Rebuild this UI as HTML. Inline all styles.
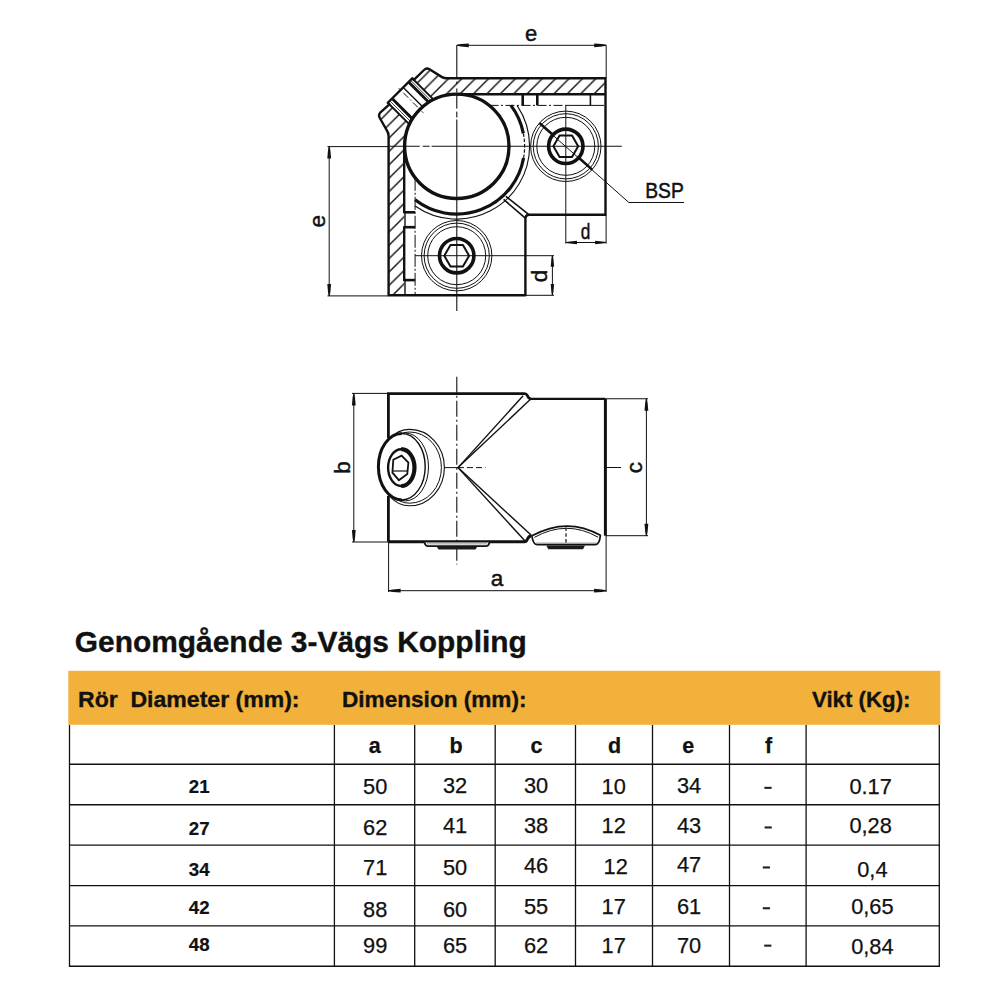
<!DOCTYPE html>
<html><head><meta charset="utf-8"><title>Genomgående 3-Vägs Koppling</title>
<style>
html,body{margin:0;padding:0;background:#fff;}
body{width:1008px;height:1008px;overflow:hidden;}
svg{display:block;font-family:"Liberation Sans", sans-serif;}
text{fill:#111;}
</style></head><body>
<svg width="1008" height="1008" viewBox="0 0 1008 1008">
<defs>
<pattern id="hatch" patternUnits="userSpaceOnUse" width="13.4" height="13.4" x="4.5" y="0">
<path d="M-3.35,3.35 L3.35,-3.35 M0,13.4 L13.4,0 M10.05,16.75 L16.75,10.05" stroke="#111" stroke-width="1.4"/>
</pattern>
</defs>
<rect width="1008" height="1008" fill="#fff"/>
<path d="M605.5,78.3 L442,78.3 L426.5,68.3 L378.6,114.6 L388.6,133 L388.6,295.3 L404.2,295.3 L404.2,146.3 A52.6,52.6 0 0 1 456.8,93.9 L605.5,93.9 Z" fill="url(#hatch)" stroke="none"/>
<path d="M387.79,102.74 L412.25,78.28 L434.60,100.62 L410.13,125.09 Z" fill="#fff" stroke="none"/>
<path d="M605.5,78.3 L447,78.3 Q444,78.3 442,77.1 L429.5,69.3 Q426.5,67.6 424,70 L413.88,79.90 L412.25,78.28 L387.79,102.74 L389.41,104.37 L380.5,112.3 Q378,115 379.8,118 L386.6,130 Q388.6,133 388.6,136 L388.6,295.3 L525.4,295.3 L525.4,219 Q525.4,214.8 529.5,214.8 L605.5,214.8 Z" stroke="#111" stroke-width="2.4" fill="none" stroke-linejoin="round"/>
<line x1="456.80" y1="94.20" x2="605.50" y2="94.20" stroke="#111" stroke-width="2.4" />
<line x1="404.20" y1="146.30" x2="404.20" y2="213.30" stroke="#111" stroke-width="2.4" />
<line x1="405.00" y1="212.30" x2="405.00" y2="227.20" stroke="#111" stroke-width="1.4" />
<line x1="404.20" y1="226.20" x2="404.20" y2="281.10" stroke="#111" stroke-width="2.4" />
<line x1="405.00" y1="280.10" x2="405.00" y2="295.30" stroke="#111" stroke-width="1.4" />
<line x1="387.79" y1="102.74" x2="409.43" y2="124.38" stroke="#111" stroke-width="1.9" />
<line x1="412.25" y1="78.28" x2="433.54" y2="99.57" stroke="#111" stroke-width="1.9" />
<line x1="392.59" y1="99.07" x2="412.39" y2="118.86" stroke="#111" stroke-width="2.9" />
<line x1="390.33" y1="101.33" x2="410.74" y2="121.74" stroke="#111" stroke-width="0.8" />
<line x1="409.07" y1="82.59" x2="428.75" y2="102.27" stroke="#111" stroke-width="2.9" />
<line x1="410.98" y1="80.68" x2="431.14" y2="100.84" stroke="#111" stroke-width="0.8" />
<line x1="403.77" y1="87.89" x2="422.67" y2="106.80" stroke="#111" stroke-width="1.4" />
<line x1="398.75" y1="88.25" x2="401.22" y2="90.72" stroke="#111" stroke-width="1" />
<line x1="403.34" y1="92.84" x2="421.44" y2="110.94" stroke="#111" stroke-width="1" stroke-dasharray="7,2.5,1.5,2.5"/>
<line x1="421.80" y1="111.30" x2="423.21" y2="112.71" stroke="#111" stroke-width="1" />
<circle cx="456.80" cy="146.30" r="52.20" stroke="#111" stroke-width="3.4" fill="none" />
<line x1="489.50" y1="105.40" x2="565.80" y2="105.40" stroke="#111" stroke-width="1.0" stroke-dasharray="9,2.5,2,2.5"/>
<line x1="565.80" y1="105.40" x2="604.00" y2="105.40" stroke="#111" stroke-width="1.0" />
<line x1="522.70" y1="94.20" x2="522.70" y2="105.40" stroke="#111" stroke-width="2.6" />
<line x1="537.30" y1="94.20" x2="537.30" y2="105.40" stroke="#111" stroke-width="2.6" />
<line x1="590.40" y1="94.20" x2="590.40" y2="105.40" stroke="#111" stroke-width="1.6" />
<line x1="415.10" y1="177.80" x2="415.10" y2="295.30" stroke="#111" stroke-width="1.0" stroke-dasharray="13,2,2,2"/>
<line x1="404.20" y1="212.30" x2="415.10" y2="212.30" stroke="#111" stroke-width="2.6" />
<line x1="404.20" y1="227.20" x2="415.10" y2="227.20" stroke="#111" stroke-width="2.6" />
<line x1="404.20" y1="280.10" x2="415.10" y2="280.10" stroke="#111" stroke-width="2.6" />
<path d="M510.87,105.40 A67.8,67.8 0 0 1 523.35,133.36" stroke="#111" stroke-width="3.2" fill="none" />
<path d="M523.35,133.36 A67.8,67.8 0 0 1 523.57,158.07" stroke="#111" stroke-width="1.2" fill="none" stroke-dasharray="3.5,1.8"/>
<path d="M523.57,158.07 A67.8,67.8 0 0 1 415.10,199.76" stroke="#111" stroke-width="3.2" fill="none" />
<path d="M529.60,146.30 A72.8,72.8 0 0 1 415.10,205.97" stroke="#111" stroke-width="1.1" fill="none" />
<path d="M517.02,105.40 A72.8,72.8 0 0 1 529.60,146.30" stroke="#111" stroke-width="1.1" fill="none" />
<line x1="505.80" y1="196.30" x2="528.60" y2="214.40" stroke="#111" stroke-width="1.6" />
<line x1="503.60" y1="199.40" x2="525.60" y2="218.40" stroke="#111" stroke-width="1.6" />
<circle cx="565.80" cy="146.30" r="35.20" stroke="#111" stroke-width="1.0" fill="none" />
<circle cx="565.80" cy="146.30" r="32.60" stroke="#111" stroke-width="1.0" fill="none" />
<circle cx="565.80" cy="146.30" r="29.00" stroke="#111" stroke-width="1.0" fill="none" />
<circle cx="565.80" cy="146.30" r="17.20" stroke="#111" stroke-width="3.6" fill="none" />
<polygon points="578.20,146.30 572.00,157.04 559.60,157.04 553.40,146.30 559.60,135.56 572.00,135.56" fill="none" stroke="#111" stroke-width="2.0" stroke-linejoin="round"/>
<circle cx="456.70" cy="255.70" r="35.20" stroke="#111" stroke-width="1.0" fill="none" />
<circle cx="456.70" cy="255.70" r="32.60" stroke="#111" stroke-width="1.0" fill="none" />
<circle cx="456.70" cy="255.70" r="29.00" stroke="#111" stroke-width="1.0" fill="none" />
<circle cx="456.70" cy="255.70" r="17.20" stroke="#111" stroke-width="3.6" fill="none" />
<polygon points="469.10,255.70 462.90,266.44 450.50,266.44 444.30,255.70 450.50,244.96 462.90,244.96" fill="none" stroke="#111" stroke-width="2.0" stroke-linejoin="round"/>
<line x1="456.80" y1="45.30" x2="456.80" y2="78.30" stroke="#111" stroke-width="1.1" />
<line x1="456.80" y1="81.50" x2="456.80" y2="84.00" stroke="#111" stroke-width="1.1" />
<line x1="456.80" y1="88.50" x2="456.80" y2="92.50" stroke="#111" stroke-width="1.1" />
<line x1="456.80" y1="94.20" x2="456.80" y2="311.00" stroke="#111" stroke-width="1.1" />
<line x1="388.60" y1="146.30" x2="621.80" y2="146.30" stroke="#111" stroke-width="1.1" />
<line x1="327.50" y1="146.60" x2="388.60" y2="146.60" stroke="#111" stroke-width="1.0" />
<line x1="565.80" y1="105.40" x2="565.80" y2="243.60" stroke="#111" stroke-width="1.0" />
<line x1="415.10" y1="255.70" x2="554.00" y2="255.70" stroke="#111" stroke-width="1.0" />
<rect x="419.7" y="144.5" width="3.0" height="3.6" fill="#fff"/>
<rect x="429.6" y="144.5" width="2.0" height="3.6" fill="#fff"/>
<rect x="455" y="108.6" width="3.6" height="3.0" fill="#fff"/>
<rect x="455" y="117.5" width="3.6" height="2.0" fill="#fff"/>
<line x1="540.80" y1="124.50" x2="628.90" y2="202.50" stroke="#111" stroke-width="1.0" />
<line x1="628.90" y1="202.50" x2="684.00" y2="202.50" stroke="#111" stroke-width="1.0" />
<line x1="539.45" y1="122.97" x2="551.95" y2="134.04" stroke="#111" stroke-width="2.6" />
<line x1="579.65" y1="158.56" x2="592.15" y2="169.63" stroke="#111" stroke-width="2.6" />
<line x1="456.80" y1="45.30" x2="606.20" y2="45.30" stroke="#111" stroke-width="1.0" />
<line x1="606.20" y1="45.30" x2="606.20" y2="78.00" stroke="#111" stroke-width="1.0" />
<path d="M456.80,44.80 L461.00,44.08 L468.80,43.40 L468.80,47.20 L461.00,46.52 L456.80,45.80 Z" fill="#111"/>
<path d="M606.20,45.80 L602.00,46.52 L594.20,47.20 L594.20,43.40 L602.00,44.08 L606.20,44.80 Z" fill="#111"/>
<line x1="329.20" y1="146.60" x2="329.20" y2="295.90" stroke="#111" stroke-width="1.0" />
<line x1="327.50" y1="295.90" x2="388.60" y2="295.90" stroke="#111" stroke-width="1.0" />
<path d="M329.70,146.60 L330.42,150.80 L331.10,158.60 L327.30,158.60 L327.98,150.80 L328.70,146.60 Z" fill="#111"/>
<path d="M328.70,295.90 L327.98,291.70 L327.30,283.90 L331.10,283.90 L330.42,291.70 L329.70,295.90 Z" fill="#111"/>
<line x1="566.00" y1="242.50" x2="606.10" y2="242.50" stroke="#111" stroke-width="1.0" />
<line x1="606.10" y1="214.80" x2="606.10" y2="243.60" stroke="#111" stroke-width="1.0" />
<path d="M566.00,242.00 L569.85,241.41 L577.00,240.80 L577.00,244.20 L569.85,243.59 L566.00,243.00 Z" fill="#111"/>
<path d="M606.10,243.00 L602.25,243.59 L595.10,244.20 L595.10,240.80 L602.25,241.41 L606.10,242.00 Z" fill="#111"/>
<line x1="552.40" y1="255.70" x2="552.40" y2="295.10" stroke="#111" stroke-width="1.0" />
<line x1="525.40" y1="295.30" x2="554.00" y2="295.30" stroke="#111" stroke-width="1.0" />
<path d="M552.90,255.70 L553.49,259.55 L554.10,266.70 L550.70,266.70 L551.31,259.55 L551.90,255.70 Z" fill="#111"/>
<path d="M551.90,295.10 L551.31,291.25 L550.70,284.10 L554.10,284.10 L553.49,291.25 L552.90,295.10 Z" fill="#111"/>
<text x="531.2" y="40.5" font-size="22" font-weight="400" text-anchor="middle" stroke="#111" stroke-width="0.45">e</text>
<text x="0" y="0" font-size="22.5" font-weight="400" text-anchor="middle" transform="translate(324.6,221.2) rotate(-90)" stroke="#111" stroke-width="0.45">e</text>
<text x="585.6" y="238.6" font-size="22.5" font-weight="400" text-anchor="middle" stroke="#111" stroke-width="0.45" textLength="9.6" lengthAdjust="spacingAndGlyphs">d</text>
<text x="0" y="0" font-size="22.5" font-weight="400" text-anchor="middle" transform="translate(547.2,276) rotate(-90)" stroke="#111" stroke-width="0.45">d</text>
<text x="645.2" y="197.9" font-size="22.3" font-weight="400" text-anchor="start" stroke="#111" stroke-width="0.5" textLength="38.6" lengthAdjust="spacingAndGlyphs">BSP</text>
<path d="M388.4,438 L388.4,393.6 L524.5,393.6 Q526.5,393.6 527.3,395.5 L528.5,397.6 Q529.5,398.8 531,398.8" stroke="#111" stroke-width="2.8" fill="none" />
<line x1="530.50" y1="398.80" x2="605.40" y2="398.80" stroke="#111" stroke-width="2.2" />
<line x1="605.40" y1="398.80" x2="605.40" y2="535.70" stroke="#111" stroke-width="3.0" />
<line x1="388.40" y1="496.00" x2="388.40" y2="541.80" stroke="#111" stroke-width="2.8" />
<path d="M388.4,541.8 L524.5,541.8 Q526.3,541.8 527.2,539.5 Q528.5,536.5 531,535.5" stroke="#111" stroke-width="3.0" fill="none" />
<line x1="458.00" y1="467.60" x2="523.10" y2="395.70" stroke="#111" stroke-width="1.4" />
<line x1="458.00" y1="467.60" x2="530.20" y2="399.60" stroke="#111" stroke-width="1.4" />
<line x1="458.00" y1="467.60" x2="525.30" y2="541.30" stroke="#111" stroke-width="1.4" />
<line x1="458.00" y1="467.60" x2="531.30" y2="535.30" stroke="#111" stroke-width="1.4" />
<line x1="456.80" y1="376.70" x2="456.80" y2="564.50" stroke="#111" stroke-width="1.1" stroke-dasharray="16,3,2,3"/>
<line x1="444.00" y1="467.60" x2="458.00" y2="467.60" stroke="#111" stroke-width="1.0" />
<line x1="458.00" y1="467.60" x2="485.50" y2="467.60" stroke="#111" stroke-width="1.0" stroke-dasharray="6,3"/>
<path d="M390,438.5 Q398,429.4 409.7,429.4 A34.7,38.2 0 0 1 444.4,467.6 A34.7,38.2 0 0 1 409.7,505.8 Q398,505.8 390,496.5" stroke="#111" stroke-width="1.1" fill="none" />
<path d="M392,439.5 Q400,432 409.7,432 A31.7,35.6 0 0 1 441.4,467.6 A31.7,35.6 0 0 1 409.7,503.2 Q400,503.2 392,495.5" stroke="#111" stroke-width="1.0" fill="none" />
<ellipse cx="405.2" cy="466.9" rx="23.3" ry="34.0" fill="#fff" stroke="#111" stroke-width="1.0"/>
<ellipse cx="401.8" cy="466.7" rx="23.4" ry="33.2" fill="#fff" stroke="#111" stroke-width="1.4"/>
<path d="M401.8,433.5 A23.4,33.2 0 0 0 401.8,499.9" stroke="#111" stroke-width="3.0" fill="none" />
<ellipse cx="401.3" cy="467.6" rx="13.2" ry="18.4" fill="none" stroke="#111" stroke-width="2.4"/>
<path d="M401.3,449.2 A13.2,18.4 0 0 1 401.3,486" stroke="#111" stroke-width="4.2" fill="none" />
<polygon points="393.3,459.8 401.6,455.6 408.4,462.6 407.3,474 398.9,480.2 392.4,472.6" fill="none" stroke="#111" stroke-width="1.8"/>
<line x1="392.50" y1="471.00" x2="407.50" y2="471.00" stroke="#111" stroke-width="1.2" />
<path d="M424.5,542.5 Q425.5,546.2 428,546.2 L486,546.2 Q488.5,546.2 489.5,542.5" fill="#fff" stroke="#111" stroke-width="1.8"/>
<line x1="427.00" y1="543.90" x2="487.00" y2="543.90" stroke="#888" stroke-width="0.9" />
<path d="M436.5,546.2 L477.5,546.2 L475.5,549.6 L438.5,549.6 Z" fill="#1a1a1a"/>
<path d="M531.9,535.8 Q533,544.7 537.5,544.7 L595,544.7 Q599.5,544.7 600.4,535.3 Q567,516.5 531.9,535.8 Z" fill="#fff" stroke="#111" stroke-width="1.7" stroke-linejoin="round"/>
<path d="M534.3,537.4 Q567,519.3 598,537.2" stroke="#111" stroke-width="1.0" fill="none" />
<line x1="536.00" y1="543.10" x2="597.00" y2="543.10" stroke="#888" stroke-width="0.9" />
<path d="M546.3,545.5 L585,545.5 L583,549.2 L548.3,549.2 Z" fill="#1a1a1a"/>
<line x1="566.00" y1="527.50" x2="566.00" y2="545.00" stroke="#111" stroke-width="1.2" stroke-dasharray="3.5,2.2"/>
<line x1="353.80" y1="393.60" x2="353.80" y2="542.00" stroke="#111" stroke-width="1.0" />
<line x1="352.00" y1="393.40" x2="388.40" y2="393.40" stroke="#111" stroke-width="1.0" />
<line x1="352.00" y1="542.00" x2="388.40" y2="542.00" stroke="#111" stroke-width="1.0" />
<path d="M354.30,393.60 L355.02,397.80 L355.70,405.60 L351.90,405.60 L352.58,397.80 L353.30,393.60 Z" fill="#111"/>
<path d="M353.30,542.00 L352.58,537.80 L351.90,530.00 L355.70,530.00 L355.02,537.80 L354.30,542.00 Z" fill="#111"/>
<line x1="646.40" y1="398.75" x2="646.40" y2="535.70" stroke="#111" stroke-width="1.0" />
<line x1="605.40" y1="398.75" x2="648.00" y2="398.75" stroke="#111" stroke-width="1.0" />
<line x1="605.40" y1="535.70" x2="648.00" y2="535.70" stroke="#111" stroke-width="1.0" />
<path d="M646.90,398.75 L647.62,402.95 L648.30,410.75 L644.50,410.75 L645.18,402.95 L645.90,398.75 Z" fill="#111"/>
<path d="M645.90,535.70 L645.18,531.50 L644.50,523.70 L648.30,523.70 L647.62,531.50 L646.90,535.70 Z" fill="#111"/>
<line x1="605.40" y1="467.50" x2="621.00" y2="467.50" stroke="#111" stroke-width="1.0" />
<line x1="388.60" y1="590.70" x2="606.10" y2="590.70" stroke="#111" stroke-width="1.0" />
<line x1="388.60" y1="541.80" x2="388.60" y2="592.00" stroke="#111" stroke-width="1.0" />
<line x1="606.10" y1="535.70" x2="606.10" y2="592.00" stroke="#111" stroke-width="1.0" />
<path d="M388.60,590.20 L392.80,589.48 L400.60,588.80 L400.60,592.60 L392.80,591.92 L388.60,591.20 Z" fill="#111"/>
<path d="M606.10,591.20 L601.90,591.92 L594.10,592.60 L594.10,588.80 L601.90,589.48 L606.10,590.20 Z" fill="#111"/>
<text x="497" y="585.8" font-size="22.5" font-weight="400" text-anchor="middle" stroke="#111" stroke-width="0.45">a</text>
<text x="0" y="0" font-size="22.5" font-weight="400" text-anchor="middle" transform="translate(350.2,467.6) rotate(-90)" stroke="#111" stroke-width="0.45">b</text>
<text x="0" y="0" font-size="22.5" font-weight="400" text-anchor="middle" transform="translate(642.2,467.5) rotate(-90)" stroke="#111" stroke-width="0.45">c</text>
<rect x="68.3" y="670.8" width="872" height="54" fill="#F2B13B"/>
<text x="74.8" y="651.7" font-size="29.5" font-weight="700" text-anchor="start" stroke="#111" stroke-width="0.35" textLength="452" lengthAdjust="spacingAndGlyphs">Genomgående 3-Vägs Koppling</text>
<text x="78" y="706.7" font-size="22.5" font-weight="700" text-anchor="start" stroke="#111" stroke-width="0.35" textLength="221.5" lengthAdjust="spacingAndGlyphs">Rör&#160; Diameter (mm):</text>
<text x="342" y="706.7" font-size="22.5" font-weight="700" text-anchor="start" stroke="#111" stroke-width="0.35" textLength="184.5" lengthAdjust="spacingAndGlyphs">Dimension (mm):</text>
<text x="812.0" y="706.7" font-size="22.5" font-weight="700" text-anchor="start" stroke="#111" stroke-width="0.35" textLength="98.5" lengthAdjust="spacingAndGlyphs">Vikt (Kg):</text>
<line x1="69.50" y1="725.00" x2="69.50" y2="966.90" stroke="#111" stroke-width="1.3" />
<line x1="334.40" y1="725.00" x2="334.40" y2="966.90" stroke="#111" stroke-width="1.3" />
<line x1="414.70" y1="725.00" x2="414.70" y2="966.90" stroke="#111" stroke-width="1.3" />
<line x1="495.20" y1="725.00" x2="495.20" y2="966.90" stroke="#111" stroke-width="1.3" />
<line x1="575.50" y1="725.00" x2="575.50" y2="966.90" stroke="#111" stroke-width="1.3" />
<line x1="652.50" y1="725.00" x2="652.50" y2="966.90" stroke="#111" stroke-width="1.3" />
<line x1="729.50" y1="725.00" x2="729.50" y2="966.90" stroke="#111" stroke-width="1.3" />
<line x1="806.10" y1="725.00" x2="806.10" y2="966.90" stroke="#111" stroke-width="1.3" />
<line x1="939.30" y1="725.00" x2="939.30" y2="966.90" stroke="#111" stroke-width="1.3" />
<line x1="69.00" y1="764.30" x2="939.80" y2="764.30" stroke="#111" stroke-width="1.4" />
<line x1="69.00" y1="804.70" x2="939.80" y2="804.70" stroke="#111" stroke-width="1.4" />
<line x1="69.00" y1="845.10" x2="939.80" y2="845.10" stroke="#111" stroke-width="1.4" />
<line x1="69.00" y1="885.60" x2="939.80" y2="885.60" stroke="#111" stroke-width="1.4" />
<line x1="69.00" y1="925.90" x2="939.80" y2="925.90" stroke="#111" stroke-width="1.4" />
<line x1="69.00" y1="966.20" x2="939.80" y2="966.20" stroke="#111" stroke-width="1.4" />
<text x="374.8" y="752.7" font-size="21.5" font-weight="700" text-anchor="middle" stroke="#111" stroke-width="0.25">a</text>
<text x="456.0" y="752.7" font-size="21.5" font-weight="700" text-anchor="middle" stroke="#111" stroke-width="0.25">b</text>
<text x="536.4" y="752.7" font-size="21.5" font-weight="700" text-anchor="middle" stroke="#111" stroke-width="0.25">c</text>
<text x="614.6" y="752.7" font-size="21.5" font-weight="700" text-anchor="middle" stroke="#111" stroke-width="0.25">d</text>
<text x="688.2" y="752.7" font-size="21.5" font-weight="700" text-anchor="middle" stroke="#111" stroke-width="0.25">e</text>
<text x="768.6" y="752.7" font-size="21.5" font-weight="700" text-anchor="middle" stroke="#111" stroke-width="0.25">f</text>
<text x="199.2" y="792.9" font-size="18.7" font-weight="700" text-anchor="middle" stroke="#111" stroke-width="0.2">21</text>
<text x="375.2" y="793.75" font-size="21.8" font-weight="400" text-anchor="middle" stroke="#111" stroke-width="0.25">50</text>
<text x="455.0" y="792.9" font-size="21.8" font-weight="400" text-anchor="middle" stroke="#111" stroke-width="0.25">32</text>
<text x="536.0" y="793.3" font-size="21.8" font-weight="400" text-anchor="middle" stroke="#111" stroke-width="0.25">30</text>
<text x="613.7" y="793.8" font-size="21.8" font-weight="400" text-anchor="middle" stroke="#111" stroke-width="0.25">10</text>
<text x="689.0" y="793.3" font-size="21.8" font-weight="400" text-anchor="middle" stroke="#111" stroke-width="0.25">34</text>
<rect x="764.4" y="786.8" width="7.2" height="2.1" fill="#222"/>
<text x="870.6" y="793.75" font-size="21.8" font-weight="400" text-anchor="middle" stroke="#111" stroke-width="0.25">0.17</text>
<text x="199.2" y="835.4" font-size="18.7" font-weight="700" text-anchor="middle" stroke="#111" stroke-width="0.2">27</text>
<text x="375.2" y="835.0" font-size="21.8" font-weight="400" text-anchor="middle" stroke="#111" stroke-width="0.25">62</text>
<text x="455.0" y="832.9" font-size="21.8" font-weight="400" text-anchor="middle" stroke="#111" stroke-width="0.25">41</text>
<text x="536.0" y="832.6" font-size="21.8" font-weight="400" text-anchor="middle" stroke="#111" stroke-width="0.25">38</text>
<text x="613.7" y="833.3" font-size="21.8" font-weight="400" text-anchor="middle" stroke="#111" stroke-width="0.25">12</text>
<text x="689.0" y="832.6" font-size="21.8" font-weight="400" text-anchor="middle" stroke="#111" stroke-width="0.25">43</text>
<rect x="764.6" y="826.4" width="7.2" height="2.1" fill="#222"/>
<text x="870.6" y="832.9" font-size="21.8" font-weight="400" text-anchor="middle" stroke="#111" stroke-width="0.25">0,28</text>
<text x="199.2" y="875.6" font-size="18.7" font-weight="700" text-anchor="middle" stroke="#111" stroke-width="0.2">34</text>
<text x="375.2" y="875.0" font-size="21.8" font-weight="400" text-anchor="middle" stroke="#111" stroke-width="0.25">71</text>
<text x="455.0" y="874.6" font-size="21.8" font-weight="400" text-anchor="middle" stroke="#111" stroke-width="0.25">50</text>
<text x="536.0" y="873.1" font-size="21.8" font-weight="400" text-anchor="middle" stroke="#111" stroke-width="0.25">46</text>
<text x="615.7" y="873.8" font-size="21.8" font-weight="400" text-anchor="middle" stroke="#111" stroke-width="0.25">12</text>
<text x="689.0" y="872.4" font-size="21.8" font-weight="400" text-anchor="middle" stroke="#111" stroke-width="0.25">47</text>
<rect x="762.8" y="866.4" width="7.2" height="2.1" fill="#222"/>
<text x="872.4" y="876.7" font-size="21.8" font-weight="400" text-anchor="middle" stroke="#111" stroke-width="0.25">0,4</text>
<text x="199.2" y="913.75" font-size="18.7" font-weight="700" text-anchor="middle" stroke="#111" stroke-width="0.2">42</text>
<text x="375.2" y="916.7" font-size="21.8" font-weight="400" text-anchor="middle" stroke="#111" stroke-width="0.25">88</text>
<text x="455.0" y="916.7" font-size="21.8" font-weight="400" text-anchor="middle" stroke="#111" stroke-width="0.25">60</text>
<text x="536.0" y="914.3" font-size="21.8" font-weight="400" text-anchor="middle" stroke="#111" stroke-width="0.25">55</text>
<text x="613.7" y="914.3" font-size="21.8" font-weight="400" text-anchor="middle" stroke="#111" stroke-width="0.25">17</text>
<text x="689.0" y="914.3" font-size="21.8" font-weight="400" text-anchor="middle" stroke="#111" stroke-width="0.25">61</text>
<rect x="762.8" y="907.2" width="7.2" height="2.1" fill="#222"/>
<text x="872.4" y="914.2" font-size="21.8" font-weight="400" text-anchor="middle" stroke="#111" stroke-width="0.25">0,65</text>
<text x="199.2" y="950.6" font-size="18.7" font-weight="700" text-anchor="middle" stroke="#111" stroke-width="0.2">48</text>
<text x="375.2" y="952.7" font-size="21.8" font-weight="400" text-anchor="middle" stroke="#111" stroke-width="0.25">99</text>
<text x="455.0" y="952.7" font-size="21.8" font-weight="400" text-anchor="middle" stroke="#111" stroke-width="0.25">65</text>
<text x="536.0" y="952.9" font-size="21.8" font-weight="400" text-anchor="middle" stroke="#111" stroke-width="0.25">62</text>
<text x="613.7" y="952.9" font-size="21.8" font-weight="400" text-anchor="middle" stroke="#111" stroke-width="0.25">17</text>
<text x="689.0" y="952.9" font-size="21.8" font-weight="400" text-anchor="middle" stroke="#111" stroke-width="0.25">70</text>
<rect x="764.2" y="944.6" width="7.2" height="2.1" fill="#222"/>
<text x="872.4" y="954.2" font-size="21.8" font-weight="400" text-anchor="middle" stroke="#111" stroke-width="0.25">0,84</text>
</svg>
</body></html>
